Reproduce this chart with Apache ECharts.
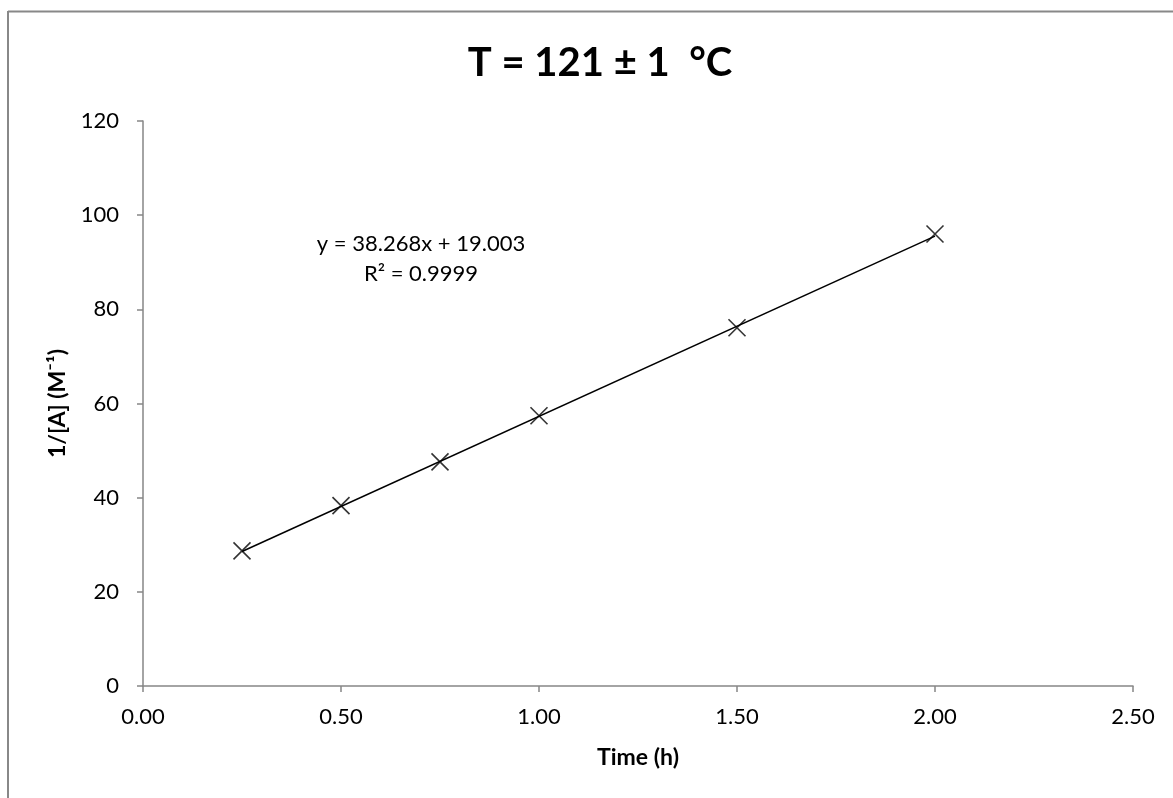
<!DOCTYPE html>
<html><head><meta charset="utf-8">
<script src="https://cdn.jsdelivr.net/npm/echarts@6/dist/echarts.min.js"></script>
<style>html,body{margin:0;padding:0;background:#fff}#c{width:1173px;height:798px}</style>
</head><body><div id="c"></div>
<script>
const timeH = [0.25, 0.5, 0.75, 1.0, 1.5, 2.0];
const invA = [28.7, 38.3, 47.6, 57.4, 76.1, 96.0];
const slope = 38.268, intercept = 19.003;
const trendX = [0.25, 2.0];
const eqLines = ['y = 38.268x + 19.003', 'R\u00b2 = 0.9999'];

const F = 'Lato, "Open Sans", "Noto Sans", sans-serif';
const chart = echarts.init(document.getElementById('c'));
chart.setOption({
  animation: false,
  backgroundColor: '#fff',
  title: {text: 'T = 121 \u00b1 1  \u00b0C', left: 595, top: 38, textAlign: 'center',
    textStyle: {fontFamily: F, fontSize: 40, fontWeight: 'bold', color: '#000'}},
  grid: {left: 143, right: 40, top: 121, bottom: 112},
  xAxis: {type: 'value', min: 0, max: 2.5, interval: 0.5,
    name: 'Time (h)', nameLocation: 'middle', nameGap: 60,
    nameTextStyle: {fontFamily: F, fontSize: 23, fontWeight: 'bold', color: '#000'},
    axisLine: {show: true, lineStyle: {color: '#868686', width: 1.5}},
    axisTick: {show: true, length: 6, lineStyle: {color: '#868686', width: 1.5}},
    splitLine: {show: false},
    axisLabel: {fontFamily: F, fontSize: 22, color: '#000', margin: 20,
      formatter: v => v.toFixed(2)}},
  yAxis: {type: 'value', min: 0, max: 120, interval: 20,
    name: '1/[A] (M\u207b\u00b9)', nameLocation: 'middle', nameGap: 74, nameRotate: 90,
    nameTextStyle: {fontFamily: F, fontSize: 23, fontWeight: 'bold', color: '#000'},
    axisLine: {show: true, lineStyle: {color: '#868686', width: 1.5}},
    axisTick: {show: true, length: 6, lineStyle: {color: '#868686', width: 1.5}},
    splitLine: {show: false},
    axisLabel: {fontFamily: F, fontSize: 22, color: '#000', margin: 24}},
  graphic: [
    {type: 'line', shape: {x1: 8, y1: 11.5, x2: 1173, y2: 11.5}, style: {stroke: '#888', lineWidth: 2}},
    {type: 'line', shape: {x1: 8, y1: 11, x2: 8, y2: 798}, style: {stroke: '#888', lineWidth: 2}},
    {type: 'text', x: 421, y: 229, style: {text: eqLines.join('\n'),
      fontFamily: F, fontSize: 22, fill: '#000', align: 'center', lineHeight: 30}}
  ],
  series: [
    {type: 'line', data: trendX.map(x => [x, slope * x + intercept]), symbol: 'none',
      lineStyle: {color: '#000', width: 1.5}, z: 2},
    {type: 'scatter', data: timeH.map((x, i) => [x, invA[i]]),
      symbol: 'path://M0,0L10,10M10,0L0,10', symbolSize: 17,
      itemStyle: {color: 'transparent', borderColor: '#000', borderWidth: 1.6}, z: 3}
  ]
});
</script></body></html>
